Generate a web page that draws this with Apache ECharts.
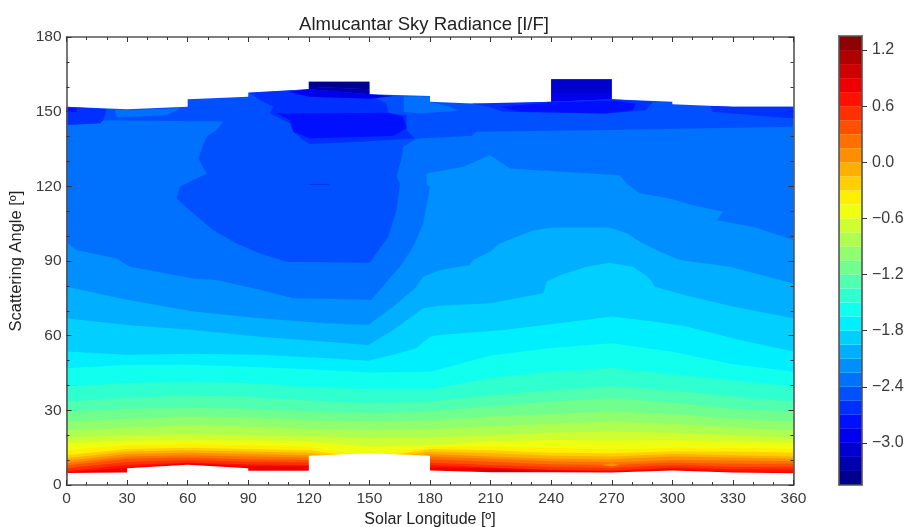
<!DOCTYPE html>
<html>
<head>
<meta charset="utf-8">
<style>html,body{margin:0;padding:0;background:#fff}#c{width:908px;height:527px}</style>
<script src="https://cdn.jsdelivr.net/npm/echarts@6/dist/echarts.min.js"></script>
</head>
<body>
<div id="c"></div>
<script>
const titleText = 'Almucantar Sky Radiance [I/F]';
const xName = 'Solar Longitude [º]';
const yName = 'Scattering Angle [º]';
const colorbarTicks = [1.2, 0.6, 0.0, -0.6, -1.2, -1.8, -2.4, -3.0];
const bandColors = ['#00008f','#0000af','#0000cf','#0000ef','#0010ff','#0030ff','#0050ff','#0070ff',
  '#008fff','#00afff','#00cfff','#00efff','#10ffef','#30ffcf','#50ffaf','#70ff8f',
  '#8fff70','#afff50','#cfff30','#efff10','#ffef00','#ffcf00','#ffaf00','#ff8f00',
  '#ff7000','#ff5000','#ff3000','#ff1000','#ef0000','#cf0000','#af0000','#8f0000'];
const bandEdges = [-3.45,-3.30,-3.15,-3.00,-2.85,-2.70,-2.55,-2.40,-2.25,-2.10,-1.95,-1.80,-1.65,-1.50,-1.35,-1.20,
  -1.05,-0.90,-0.75,-0.60,-0.45,-0.30,-0.15,0.00,0.15,0.30,0.45,0.60,0.75,0.90,1.05,1.20,1.35];

// Upper edge of the data and lower edge of the data, [longitude, angle]
const upperEdge = [[0,152],[30,151],[60,152],[60,155],[90,156],[90,157.7],[120,159],[120,162],[150,162],[150,157],[180,156.3],[180,154],[210,153],[240,154],[240,163],[270,163],[270,155],[300,154],[300,153],[330,152],[360,152]];
const lowerEdge = [[0,4.8],[30,5],[30,6.7],[60,8.1],[90,6.7],[90,5.7],[120,5.7],[120,11.8],[150,12.8],[180,11.8],[180,5.8],[210,5.1],[240,5.1],[270,5],[300,5.8],[330,5],[360,4.7]];

// Contours with overhangs, [longitude, angle]
const band8Top = [[0,144.6],[16.6,145.3],[18.2,146.6],[77.6,146],[74.3,142.6],[69.4,139.9],[67.7,136.6],[65.3,131.2],[69.4,125.2],[56.2,119.8],[54.5,115.1],[62.8,109.1],[72.7,102.4],[84.2,97],[95.8,93],[109,89.7],[150.2,89.3],[159.3,99.7],[163.4,110.5],[165.1,121.2],[163.4,123.9],[165.9,131.2],[166.7,135.9],[172.5,138.8],[175,139.2],[200.6,140.3],[203,141.9],[267.4,142.6],[360,143.9]];
const band9Top = [[0,97.3],[5,94.4],[24.8,91],[31.4,87.7],[62.8,83],[74.3,82.4],[95.8,78.4],[112.3,75],[151,74.4],[159.3,82.4],[165.1,87.7],[171.7,95.7],[176.6,105.1],[180,119.8],[178.3,120.5],[178.3,125.2],[196.5,127.9],[209.7,132.6],[219.6,127.2],[274,124.5],[277.3,121.2],[283.9,117.2],[298.8,115.1],[309.5,112.5],[325.2,109.8],[321.9,106.4],[340,103.8],[360,98.4]];
const band10Top = [[0,79.7],[29.8,74.4],[62.8,69.7],[95.8,67],[128.8,65],[149.4,64.3],[161.8,71.7],[172.5,79],[176.6,83.7],[184.9,86.4],[199.8,88.4],[201.4,90.4],[209.7,93.7],[214.6,97],[231.1,102.4],[241,103.5],[269,103.5],[277.3,101.1],[283.9,97.7],[293.8,93.7],[303.7,90.4],[328.5,87.7],[360,81]];
const band11Top = [[0,67],[29.8,64.3],[62.8,62.3],[95.8,59.6],[128.8,57.6],[149.4,56.3],[161.8,62.3],[176.6,71],[184.9,72],[209.7,73],[236,77],[236.9,79],[237.7,81.7],[244.3,84.3],[257.5,87.7],[269,89.3],[280.6,87.7],[288.9,83],[291.3,79.7],[308.7,75.7],[330.1,71.7],[360,67]];
const band12Top = [[0,53.6],[29.8,52.3],[62.8,52.7],[95.8,52.3],[128.8,50.9],[149.4,49.9],[161.8,52.3],[173.3,55],[180,59.6],[184.9,60.3],[216.3,62.3],[250.9,65.7],[269.9,67.7],[290.5,65.7],[307,63.7],[333.4,58.3],[360,53.6]];

// Contours read at each longitude tick
const longitudes = [0,30,60,90,120,150,180,210,240,270,300,330,360];
const band13Top = [46.9,48.3,48.3,47.5,46.5,45.2,45.5,52,55,57,53.5,48.5,45.6];
const band14Top = [39.6,41,41.5,41,39.5,38.5,38.5,43,45.5,47,44.5,42,39.6];
const band15Top = [33.5,35,36,35.5,34,32.8,33.5,36,38,39.6,38,35.5,33.5];
const band16Top = [29.5,30.5,31,30.5,29.5,28.8,29.5,31.5,33.5,34.9,33,30.5,29.5];
const band17Top = [25.5,26.5,27.5,27,26,25.5,26,27.5,28.5,29.5,28.5,26.5,25.5];
const band18Top = [22,23,24,23.5,22.5,22,22.5,23.5,24.5,25.5,24.5,23,22];
const band19Top = [19,20,20.5,20,19.5,18.8,19,20,21,21.5,21,20,19];
const band20Top = [16.8,17.8,18,18,17.5,15.4,16,17.5,18,17.8,18,17.5,17];
const band21Top = [14,16,16.5,16,15.4,11.5,15.4,15.5,15,14.3,15,15,14.5];
const band22Top = [12,14.5,15,14.5,14,10.5,14.5,14,13,12.8,13.5,13.5,13];
const band23Top = [10.7,13.5,14,13.5,13,9.5,13.5,12.8,11.8,11.5,12.5,12,11.5];
const band24Top = [9.7,12.5,13,12.5,12,8.5,12.5,11.5,10.5,10.3,11.5,11,10.5];
const band25Top = [8.7,11.5,12,11.5,11,7.5,11.5,10.5,9.5,9,10,9.8,9.5];
const band26Top = [7.8,10.5,11,10.3,10,6.5,10.3,9.3,8.3,8,9,8.5,8.5];
const band27Top = [6.7,9.2,10,9.3,9,5.5,9,8,7.2,6.8,8,7.3,7.3];
const band28Top = [5.6,8,9,8.2,8,4.5,8,7,6,5.8,7,6.3,6.2];
const band29Top = [5,7,8.8,7.5,7.5,4,7,6.8,6,5.4,6.3,5.3,5];

// Closed patches near the top of the field
const patchLeftDark = [[0,152],[20,151],[18.2,146.6],[16.6,145.3],[0,144.6]];
const patchLeftCore = [[0,151.6],[5,151.4],[5,149.9],[0,149.9]];
const patchLeftLight = [[24,150.9],[29.8,150.7],[56.2,151.3],[49.6,148.6],[24.8,147.7]];
const patchMidLight = [[167,150],[167,156.1],[180,156.2],[180,154],[190,152],[194,150.4],[175,149.3]];
const patchCentre = [[90.8,157.5],[95.8,154.6],[102.4,152],[100.7,149.3],[110.6,145.3],[112.3,141.9],[117.2,138.6],[120.5,137],[145.3,137.9],[172.5,139.2],[168.4,142.6],[168.4,148.6],[159.3,149.6],[158.5,153.3],[152.7,155.7],[150,157],[120,159]];
const patchCentreCore = [[110.6,146.6],[112.3,141.9],[120.5,139.2],[161.8,140.2],[168.4,143.3],[166.7,148],[159.3,149.6],[104,149.3]];
const patchSliver = [[120,120.9],[130,121],[130,120.5],[120,120.5]];
const patchTopStrip = [[110,158],[120,159],[150,157],[162,156.3],[150,155.2],[120,156]];
const towerLeftBase = [[120,159],[150,157],[150,159],[120,160]];
const towerLeftTop = [[120,160],[150,159],[150,162],[120,162]];
const towerRightTop = [[240,163],[270,163],[270,157.5],[240,157.5]];
const towerRightBase = [[240,157.5],[270,157.5],[270,155],[240,154]];
const patchRightDark = [[200.6,153.3],[240,154],[270,155],[290.5,154],[287,150.6],[267,149.3],[216,150],[208.8,152]];
const patchRightCore = [[214.6,152],[240,153.7],[270,154.5],[282,153.3],[280.6,150.6],[267,149.3],[224.5,150]];
const patchFarRight = [[318.6,152.3],[330,152],[360,152],[360,147.3],[340,148.6],[320,150]];
const patchDeepRed = [[200,5.4],[212,6.3],[225,5.8],[232,5.2]];
const patchOrange = [[265,8],[270,8.7],[274,8],[270,7.4]];

const gridOf = (vals) => vals.map((v, i) => [longitudes[i], v]);
const toFloor = (line) => line.concat([[360, 0], [0, 0]]);

const layers = [
  [7, toFloor(upperEdge)],
  [8, toFloor(band8Top)], [9, toFloor(band9Top)], [10, toFloor(band10Top)],
  [11, toFloor(band11Top)], [12, toFloor(band12Top)],
  [13, toFloor(gridOf(band13Top))], [14, toFloor(gridOf(band14Top))], [15, toFloor(gridOf(band15Top))],
  [16, toFloor(gridOf(band16Top))], [17, toFloor(gridOf(band17Top))], [18, toFloor(gridOf(band18Top))],
  [19, toFloor(gridOf(band19Top))], [20, toFloor(gridOf(band20Top))], [21, toFloor(gridOf(band21Top))],
  [22, toFloor(gridOf(band22Top))], [23, toFloor(gridOf(band23Top))], [24, toFloor(gridOf(band24Top))],
  [25, toFloor(gridOf(band25Top))], [26, toFloor(gridOf(band26Top))], [27, toFloor(gridOf(band27Top))],
  [28, toFloor(gridOf(band28Top))], [29, toFloor(gridOf(band29Top))],
  [30, patchDeepRed], [24, patchOrange],
  [6, patchLeftDark], [5, patchLeftCore], [8, patchLeftLight], [8, patchMidLight],
  [6, patchCentre], [5, patchCentreCore], [6, patchSliver], [4, patchTopStrip],
  [2, towerLeftBase], [1, towerLeftTop], [3, towerRightTop], [4, towerRightBase],
  [6, patchRightDark], [5, patchRightCore], [6, patchFarRight]
];

const ink = '#3a3a3a', frame = '#555';
const font = '"Liberation Sans", Arial, sans-serif';
const sharedLine = { show: true, onZero: false, lineStyle: { color: frame, width: 1.6 } };
const ticks = { show: true, inside: true, length: 5, lineStyle: { color: '#333', width: 1 } };
const minor = { show: true, splitNumber: 3, length: 3, lineStyle: { color: '#333', width: 1 } };
const labelStyle = { color: ink, fontSize: 15.5, fontFamily: font };

const chart = echarts.init(document.getElementById('c'));
chart.setOption({
  backgroundColor: '#fff',
  animation: false,
  title: { text: titleText, left: 419, top: 10, textAlign: 'center',
    textStyle: { color: '#222', fontSize: 18.5, fontWeight: 'normal', fontFamily: font } },
  grid: [
    { left: 66.5, top: 37, width: 727, height: 448, outerBoundsMode: 'none' },
    { left: 839, top: 36, width: 23, height: 449, outerBoundsMode: 'none' }
  ],
  xAxis: [
    { type: 'value', gridIndex: 0, min: 0, max: 360, interval: 30, z: 5, position: 'bottom',
      axisLine: sharedLine, axisTick: ticks, minorTick: minor, splitLine: { show: false }, minorSplitLine: { show: false },
      axisLabel: Object.assign({ margin: 6, hideOverlap: false, showMinLabel: true, showMaxLabel: true }, labelStyle),
      name: xName, nameLocation: 'middle', nameGap: 27,
      nameTextStyle: { color: '#222', fontSize: 16, fontFamily: font } },
    { type: 'value', gridIndex: 0, min: 0, max: 360, interval: 30, z: 5, position: 'top',
      axisLine: sharedLine, axisTick: ticks, minorTick: minor, splitLine: { show: false }, axisLabel: { show: false } },
    { type: 'value', gridIndex: 1, min: 0, max: 1, z: 5, position: 'bottom',
      axisLine: sharedLine, axisTick: { show: false }, splitLine: { show: false }, axisLabel: { show: false } },
    { type: 'value', gridIndex: 1, min: 0, max: 1, z: 5, position: 'top',
      axisLine: sharedLine, axisTick: { show: false }, splitLine: { show: false }, axisLabel: { show: false } }
  ],
  yAxis: [
    { type: 'value', gridIndex: 0, min: 0, max: 180, interval: 30, z: 5, position: 'left',
      axisLine: sharedLine, axisTick: ticks, minorTick: minor, splitLine: { show: false },
      axisLabel: Object.assign({ margin: 5, showMinLabel: true, showMaxLabel: true }, labelStyle),
      name: yName, nameLocation: 'middle', nameGap: 39,
      nameTextStyle: { color: '#222', fontSize: 16.5, fontFamily: font } },
    { type: 'value', gridIndex: 0, min: 0, max: 180, interval: 30, z: 5, position: 'right',
      axisLine: sharedLine, axisTick: ticks, minorTick: minor, splitLine: { show: false }, axisLabel: { show: false } },
    { type: 'value', gridIndex: 1, min: bandEdges[0], max: bandEdges[bandEdges.length - 1], z: 5, position: 'right',
      axisLine: sharedLine, splitLine: { show: false },
      axisTick: { show: true, inside: false, length: 5, customValues: colorbarTicks, lineStyle: { color: '#333', width: 1 } },
      axisLabel: Object.assign({ margin: 10, customValues: colorbarTicks,
        formatter: (v) => (v < 0 ? '\u2212' : '') + Math.abs(v).toFixed(1) }, labelStyle, { fontSize: 16 }) },
    { type: 'value', gridIndex: 1, min: bandEdges[0], max: bandEdges[bandEdges.length - 1], z: 5, position: 'left',
      axisLine: sharedLine, axisTick: { show: false }, splitLine: { show: false }, axisLabel: { show: false } }
  ],
  series: [
    { type: 'custom', xAxisIndex: 0, yAxisIndex: 0, z: 1, silent: true, clip: false,
      data: layers.map((l, i) => [i]),
      encode: { x: -1, y: -1 },
      renderItem: (params, api) => {
        const l = layers[params.dataIndex];
        return { type: 'polygon', shape: { points: l[1].map((p) => api.coord(p)) },
          style: { fill: bandColors[l[0] - 1], stroke: null } };
      } },
    { type: 'custom', xAxisIndex: 0, yAxisIndex: 0, z: 2, silent: true, clip: false,
      data: [[0]],
      encode: { x: -1, y: -1 },
      renderItem: (params, api) => ({ type: 'polygon', shape: { points: toFloor(lowerEdge).map((p) => api.coord(p)) },
        style: { fill: '#fff', stroke: null } }) },
    { type: 'custom', xAxisIndex: 2, yAxisIndex: 2, z: 1, silent: true, clip: false,
      data: bandColors.map((c, i) => [bandEdges[i], bandEdges[i + 1]]),
      encode: { y: [0, 1], x: -1 },
      renderItem: (params, api) => {
        const a = api.coord([0, api.value(0)]);
        const b = api.coord([1, api.value(1)]);
        return { type: 'rect', shape: { x: a[0], y: b[1], width: b[0] - a[0], height: a[1] - b[1] },
          style: { fill: bandColors[params.dataIndex], stroke: null } };
      } }
  ]
});
</script>
</body>
</html>
